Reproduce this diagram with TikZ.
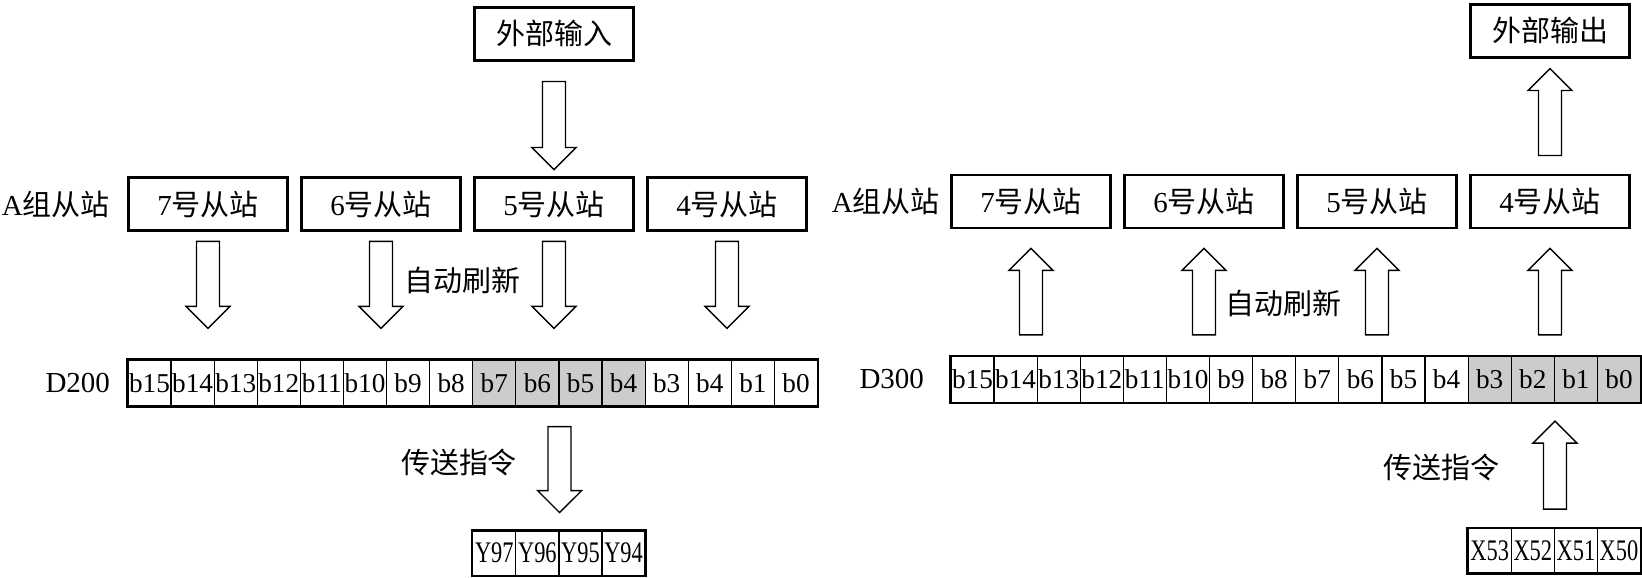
\documentclass[tikz,border=0pt]{standalone}
\usepackage{fontspec}
\setmainfont{Liberation Serif}
\newfontfamily\cjk{Noto Sans CJK SC}
\newfontfamily\narrow[FakeStretch=0.75]{Liberation Serif}
\usetikzlibrary{calc, positioning}

\begin{document}
\begin{tikzpicture}
\tikzstyle{station} = [rectangle, draw=black, line width=1.6pt, minimum width=3.18cm, minimum height=1.06cm, text centered, node distance=3.46cm, font=\fontsize{16.5pt}{20pt}\selectfont]
\tikzstyle{textlabel} = [inner sep=0pt, font=\fontsize{16.5pt}{20pt}\selectfont]
\tikzstyle{bitcell} = [rectangle, draw=black, line width=0.7pt, minimum width=0.862cm, minimum height=0.92cm, inner sep=0pt, node distance=0.862cm, font=\fontsize{15.5pt}{18pt}\selectfont]
\tikzstyle{iocell} = [bitcell, minimum height=0.88cm, font=\fontsize{17pt}{20pt}\narrow]
\tikzstyle{regframe} = [line width=1.5pt]
\tikzstyle{fatarrow} = [draw, fill=white, line width=0.75pt, line join=miter, to path={
  ($(\tikztotarget)!0.44cm!(\tikztostart)$) coordinate (hb)
  ($(\tikztostart)!0.23cm!90:(\tikztotarget)$) -- ($(hb)!0.23cm!-90:(\tikztostart)$)
  -- ($(hb)!0.44cm!-90:(\tikztostart)$) -- (\tikztotarget)
  -- ($(hb)!0.44cm!90:(\tikztostart)$) -- ($(hb)!0.23cm!90:(\tikztostart)$)
  -- ($(\tikztostart)!0.23cm!-90:(\tikztotarget)$) -- cycle}]

\useasboundingbox (0,0) rectangle (32.84,-11.56);

% left half: D200
\node (s7) [station] at (4.16,-4.08) {7\cjk 号从站};
\node (s6) [station, right of=s7] {6\cjk 号从站};
\node (s5) [station, right of=s6] {5\cjk 号从站};
\node (s4) [station, right of=s5] {4\cjk 号从站};
\node (extin) [station, above=2.29cm of s5] {\cjk 外部输入};
\node (ga) [textlabel, left=0.34cm of s7] {A\cjk 组从站};

\node (l1) [bitcell] at (2.99,-7.66) {b15};
\foreach \t [count=\i from 2, remember=\i as \j (initially 1)] in {b14,b13,b12,b11,b10,b9,b8,b7,b6,b5,b4,b3,b4,b1,b0} {
  \pgfmathtruncatemacro\shade{(\i>8)*(\i<13)*20}
  \node (l\i) [bitcell, fill=black!\shade, right of=l\j] {\t};
}
\draw [regframe] (l1.north west) rectangle (l16.south east);
\node (d200) [textlabel, left=0.34cm of l1] {D200};

\node (y1) [iocell, below=2.48cm of l9] {Y97};
\node (y2) [iocell, right of=y1] {Y96};
\node (y3) [iocell, right of=y2] {Y95};
\node (y4) [iocell, right of=y3] {Y94};
\draw [regframe] (y1.north west) rectangle (y4.south east);

\draw [fatarrow] ([yshift=-0.4cm]extin.south) to ([yshift=0.13cm]s5.north);
\foreach \s in {s7,s6,s5,s4}
  \draw [fatarrow] ([yshift=-0.19cm]\s.south) to ([yshift=0.62cm]\s |- l1.north);
\draw [fatarrow] ([yshift=-0.4cm]y2.east |- l1.south) to ([yshift=0.36cm]y2.north east);
\node (auto1) [textlabel] at (9.24,-5.6) {\cjk 自动刷新};
\node (move1) [textlabel] at (9.18,-9.26) {\cjk 传送指令};

% right half: D300
\node (t7) [station] at (20.62,-4.03) {7\cjk 号从站};
\node (t6) [station, right of=t7] {6\cjk 号从站};
\node (t5) [station, right of=t6] {5\cjk 号从站};
\node (t4) [station, right of=t5] {4\cjk 号从站};
\node (extout) [station, above=2.3cm of t4] {\cjk 外部输出};
\node (gb) [textlabel, left=0.2cm of t7] {A\cjk 组从站};

\node (r1) [bitcell] at (19.45,-7.59) {b15};
\foreach \t [count=\i from 2, remember=\i as \j (initially 1)] in {b14,b13,b12,b11,b10,b9,b8,b7,b6,b5,b4,b3,b2,b1,b0} {
  \pgfmathtruncatemacro\shade{(\i>12)*20}
  \node (r\i) [bitcell, fill=black!\shade, right of=r\j] {\t};
}
\draw [regframe] (r1.north west) rectangle (r16.south east);
\node (d300) [textlabel, left=0.52cm of r1] {D300};

\node (x1) [iocell, below=2.5cm of r13] {X53};
\node (x2) [iocell, right of=x1] {X52};
\node (x3) [iocell, right of=x2] {X51};
\node (x4) [iocell, right of=x3] {X50};
\draw [regframe] (x1.north west) rectangle (x4.south east);

\foreach \s in {t7,t6,t5,t4}
  \draw [fatarrow] ([yshift=0.42cm]\s |- r1.north) to ([yshift=-0.38cm]\s.south);
\draw [fatarrow] ([yshift=0.36cm]t4.north) to ([yshift=-0.2cm]extout.south);
\draw [fatarrow] ([yshift=0.38cm]x2.north east) to ([yshift=-0.36cm]x2.east |- r1.south);
\node (auto2) [textlabel] at (25.66,-6.06) {\cjk 自动刷新};
\node (move2) [textlabel] at (28.82,-9.34) {\cjk 传送指令};

\end{tikzpicture}
\end{document}
